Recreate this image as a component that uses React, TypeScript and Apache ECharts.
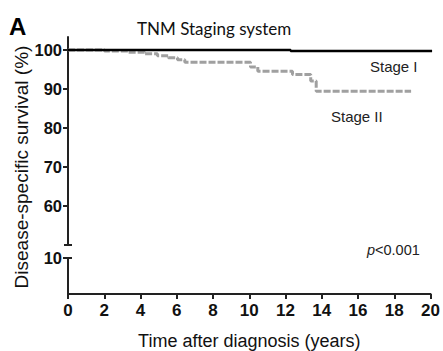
import React, { useEffect, useRef } from "react";
import * as echarts from "echarts";

const xTicks = [0, 2, 4, 6, 8, 10, 12, 14, 16, 18, 20];
const upperYTicks = [60, 70, 80, 90, 100];
const lowerYTicks = [10];

const stage1Times = [0, 12.2, 19.95];
const stage1Surv = [100, 99.7, 99.7];

const stage2Times = [0, 2.0, 3.3, 4.2, 4.9, 5.5, 6.0, 6.4, 10.0, 10.4, 12.3, 13.3, 13.6, 18.8];
const stage2Surv = [100, 99.7, 99.4, 99.0, 98.5, 98.0, 97.5, 96.8, 95.6, 94.5, 93.7, 92.0, 89.4, 89.4];

const FONT = "'Liberation Sans', Arial, sans-serif";
const AXIS_COLOR = "#222";

const G_LEFT = 68;
const G_RIGHT = 10;
const UP_TOP = 37;
const UP_H = 208;
const LO_TOP = 258;
const LO_H = 36;

export default function App() {
  const ref = useRef<HTMLDivElement>(null);
  useEffect(() => {
    if (!ref.current) return;
    const chart = echarts.init(ref.current, undefined, { renderer: "svg" });
    const zip = (a: number[], b: number[]) => a.map((v, i) => [v, b[i]]);
    const axisLine = { show: true, lineStyle: { color: AXIS_COLOR, width: 2 } };
    const axisTick = { show: true, length: 5, lineStyle: { color: AXIS_COLOR, width: 2 } };
    const label = { color: "#111", fontFamily: FONT, fontWeight: "bold" as const, fontSize: 16.5 };
    chart.setOption({
      animation: false,
      backgroundColor: "#fff",
      title: {
        text: "TNM Staging system",
        left: 132,
        top: 15,
        textStyle: { fontFamily: "Lato, 'Open Sans', sans-serif", fontWeight: "normal", fontSize: 17, color: "#111" },
      },
      grid: [
        { left: G_LEFT, right: G_RIGHT, top: UP_TOP, height: UP_H },
        { left: G_LEFT, right: G_RIGHT, top: LO_TOP, height: LO_H },
      ],
      xAxis: [
        { gridIndex: 0, type: "value", min: 0, max: 20, show: false },
        {
          gridIndex: 1,
          type: "value",
          min: 0,
          max: 20,
          interval: 2,
          axisLine,
          axisTick: { ...axisTick, customValues: xTicks },
          axisLabel: { ...label, fontSize: 17, margin: 8, customValues: xTicks },
          splitLine: { show: false },
          name: "Time after diagnosis (years)",
          nameLocation: "middle",
          nameGap: 38,
          nameTextStyle: { fontFamily: FONT, fontSize: 18, color: "#111" },
        },
      ],
      yAxis: [
        {
          gridIndex: 0,
          type: "value",
          min: 50,
          max: 103.3,
          axisLine,
          axisTick: { ...axisTick, customValues: upperYTicks },
          axisLabel: { ...label, margin: 6, customValues: upperYTicks },
          splitLine: { show: false },
        },
        {
          gridIndex: 1,
          type: "value",
          min: 0,
          max: 10,
          axisLine,
          axisTick: { ...axisTick, customValues: lowerYTicks },
          axisLabel: { ...label, margin: 6, customValues: lowerYTicks },
          splitLine: { show: false },
        },
      ],
      series: [
        {
          name: "Stage I",
          type: "line",
          xAxisIndex: 0,
          yAxisIndex: 0,
          step: "end",
          symbol: "none",
          data: zip(stage1Times, stage1Surv),
          lineStyle: { color: "#000", width: 2.5 },
          z: 3,
        },
        {
          name: "Stage II",
          type: "line",
          xAxisIndex: 0,
          yAxisIndex: 0,
          step: "end",
          symbol: "none",
          data: zip(stage2Times, stage2Surv),
          lineStyle: { color: "#a0a0a0", width: 3, type: [7, 2] },
          z: 2,
        },
      ],
      graphic: [
        {
          type: "text",
          left: 9,
          top: 14,
          style: { text: "A", font: `bold 24px ${FONT}`, fill: "#000" },
        },
        {
          type: "text",
          x: 21,
          y: 167,
          rotation: Math.PI / 2,
          style: {
            text: "Disease-specific survival (%)",
            font: `19px ${FONT}`,
            fill: "#111",
            align: "center",
            verticalAlign: "middle",
          },
        },
        {
          type: "line",
          shape: { x1: G_LEFT - 4, y1: UP_TOP + UP_H, x2: G_LEFT + 4, y2: UP_TOP + UP_H },
          style: { stroke: AXIS_COLOR, lineWidth: 2 },
        },
        {
          type: "line",
          shape: { x1: G_LEFT - 4, y1: LO_TOP, x2: G_LEFT + 4, y2: LO_TOP },
          style: { stroke: AXIS_COLOR, lineWidth: 2 },
        },
        {
          type: "text",
          x: 370,
          y: 66,
          style: { text: "Stage I", font: `15px ${FONT}`, fill: "#222", verticalAlign: "middle" },
        },
        {
          type: "text",
          x: 331,
          y: 116,
          style: { text: "Stage II", font: `15px ${FONT}`, fill: "#222", verticalAlign: "middle" },
        },
        {
          type: "text",
          x: 367,
          y: 250,
          style: {
            text: "{p|p}{n|<0.001}",
            verticalAlign: "middle",
            rich: {
              p: { fontFamily: FONT, fontStyle: "italic", fontSize: 14.5, fill: "#222" },
              n: { fontFamily: FONT, fontSize: 14.5, fill: "#222" },
            },
          },
        },
      ],
    });
    return () => chart.dispose();
  }, []);
  return (
    <div
      ref={ref}
      style={{ position: "absolute", left: 0, top: 0, width: 443, height: 351 }}
    />
  );
}
